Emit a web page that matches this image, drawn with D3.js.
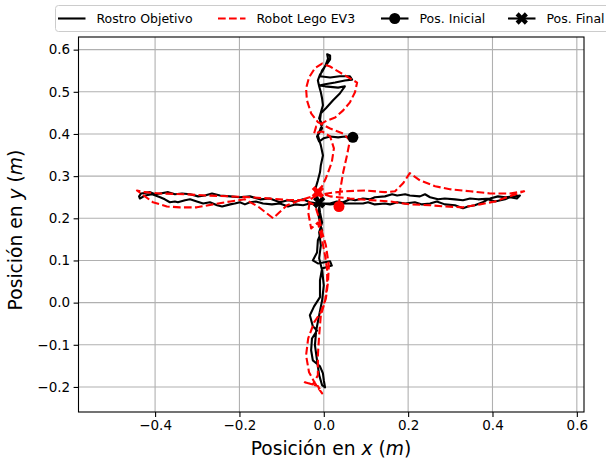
<!DOCTYPE html>
<html><head><meta charset="utf-8">
<script src="https://cdn.jsdelivr.net/npm/d3@7"></script>
<style>body{margin:0;background:#fff}svg{display:block}text{font-family:"DejaVu Sans",sans-serif}</style>
</head><body><div id="c"></div>
<script>
// ---- data ----
const seriesNames = ["Rostro Objetivo", "Robot Lego EV3", "Pos. Inicial", "Pos. Final"];
const xTicks = [-0.4, -0.2, 0.0, 0.2, 0.4, 0.6];
const yTicks = [-0.2, -0.1, 0.0, 0.1, 0.2, 0.3, 0.4, 0.5, 0.6];
const xLabel = ["Posición en ", "x", " (", "m", ")"];
const yLabel = ["Posición en ", "y", " (", "m", ")"];

// Rostro Objetivo (face) trajectory, metres, in pieces
const faceVertX = [0.069,0.050,0.034,0.015,0.000,-0.011,-0.016,-0.009,-0.004,-0.011,-0.007,-0.002,-0.004,-0.007,-0.011,-0.014,-0.009,-0.002,0.005,0.010,0.008,0.015,0.015,0.008,-0.004,-0.009,0.015,0.038,0.062,0.067,0.050,0.027,0.003,-0.011,0.003,0.034,0.050,0.038,0.022,0.005,-0.007,-0.009,-0.004,-0.014,-0.007,-0.002,-0.007,-0.009,-0.014,-0.021,-0.014,-0.009,-0.014,-0.009,-0.004,-0.014,-0.016,-0.026,-0.014,0.015,0.019,-0.004,-0.009,-0.009,-0.023,-0.033,-0.026,-0.016,-0.028,-0.030,-0.026,-0.009,-0.002,0.000,0.003,
 -0.004,-0.011,-0.016,-0.021,-0.018,-0.011,-0.004,0.000,-0.004,-0.011,-0.007,-0.011,-0.004,-0.009,-0.011];
const faceVertY = [0.392,0.394,0.392,0.394,0.390,0.382,0.394,0.409,0.423,0.437,0.451,0.468,0.484,0.499,0.513,0.527,0.541,0.551,0.565,0.579,0.589,0.586,0.577,0.567,0.551,0.537,0.534,0.537,0.537,0.529,0.527,0.522,0.518,0.515,0.513,0.510,0.513,0.496,0.480,0.461,0.449,0.432,0.413,0.397,0.373,0.349,0.326,0.309,0.290,0.266,0.247,0.233,0.214,0.190,0.171,0.148,0.119,0.100,0.093,0.098,0.088,0.081,0.053,0.013,-0.009,-0.030,-0.056,-0.066,-0.085,-0.113,-0.137,-0.151,-0.168,-0.184,-0.201,
 -0.196,-0.172,-0.137,-0.101,-0.066,-0.030,0.005,0.041,0.077,0.105,0.136,0.167,0.190,0.214,0.231];
const faceLeftOutX = [-0.033,-0.049,-0.068,-0.085,-0.104,-0.123,-0.144,-0.161,-0.175,-0.187,-0.199,-0.211,-0.222,-0.241,-0.253,-0.270,-0.286,-0.301,-0.317,-0.329,-0.346,-0.353,-0.365,-0.377,-0.388,-0.407,-0.424,-0.436,-0.438,-0.433];
const faceLeftOutY = [0.235,0.231,0.233,0.228,0.235,0.233,0.235,0.240,0.238,0.233,0.238,0.235,0.233,0.228,0.231,0.238,0.235,0.240,0.245,0.243,0.238,0.240,0.238,0.245,0.250,0.257,0.254,0.247,0.252,0.259];
const faceLeftBackX = [-0.412,-0.400,-0.388,-0.369,-0.353,-0.336,-0.317,-0.298,-0.282,-0.265,-0.246,-0.222,-0.199,-0.175,-0.151,-0.128,-0.104,-0.085,-0.068,-0.049,-0.033,-0.014];
const faceLeftBackY = [0.262,0.257,0.259,0.262,0.257,0.259,0.257,0.252,0.254,0.259,0.254,0.252,0.250,0.252,0.245,0.247,0.238,0.243,0.240,0.245,0.238,0.235];
const faceRightOutX = [0.015,0.031,0.046,0.062,0.074,0.093,0.110,0.121,0.145,0.162,0.174,0.193,0.204,0.228,0.240,0.252,0.271,0.287,0.311,0.330,0.347,0.366,0.394,0.413,0.430,0.453,0.465];
const faceRightOutY = [0.235,0.240,0.238,0.245,0.243,0.247,0.245,0.250,0.252,0.257,0.254,0.257,0.254,0.252,0.257,0.250,0.245,0.247,0.245,0.243,0.247,0.245,0.247,0.252,0.250,0.252,0.254];
const faceRightBackX = [0.458,0.441,0.430,0.406,0.389,0.377,0.358,0.342,0.330,0.311,0.287,0.268,0.252,0.233,0.216,0.193,0.174,0.157,0.145,0.121,0.105,0.093,0.062,0.038,0.015,-0.004,-0.011];
const faceRightBackY = [0.247,0.250,0.245,0.240,0.245,0.238,0.231,0.228,0.224,0.231,0.233,0.240,0.235,0.233,0.238,0.235,0.238,0.233,0.235,0.233,0.238,0.235,0.235,0.235,0.233,0.235,0.238];

// Robot Lego EV3 trajectory
const robotX = [0.036,0.038,0.046,0.055,0.062,0.046,0.015,-0.014,-0.030,-0.040,-0.042,-0.035,-0.021,-0.004,0.015,0.038,0.062,0.079,0.074,0.062,0.046,0.027,0.008,
 -0.018,-0.023,-0.004,0.015,0.024,0.019,0.005,-0.011,-0.033,-0.037,-0.030,-0.014,-0.004,0.003,0.008,0.008,0.003,-0.007,-0.023,-0.037,-0.042,-0.035,-0.021,-0.004,-0.014,-0.045,-0.026,-0.014,-0.014,-0.011,-0.007,0.005,0.010,0.012,0.005,-0.004,-0.011,-0.021,
 -0.045,-0.080,-0.128,-0.175,-0.222,-0.277,-0.329,-0.388,-0.424,-0.443,-0.424,-0.405,-0.372,-0.341,-0.301,-0.263,-0.222,-0.187,-0.156,-0.120,-0.087,-0.056,-0.026,
 0.008,0.046,0.098,0.145,0.169,0.188,0.204,0.228,0.264,0.299,0.347,0.394,0.441,0.475,0.441,0.406,0.370,0.330,0.287,0.252,0.204,0.157,0.110,0.062,0.015,-0.014];
const robotY = [0.228,0.262,0.309,0.349,0.385,0.401,0.413,0.428,0.449,0.480,0.508,0.534,0.556,0.567,0.560,0.546,0.532,0.522,0.499,0.475,0.456,0.439,0.432,
 0.418,0.401,0.406,0.394,0.366,0.333,0.295,0.262,0.243,0.214,0.176,0.190,0.148,0.112,0.077,0.041,0.005,-0.023,-0.047,-0.085,-0.125,-0.165,-0.191,-0.215,-0.198,-0.189,-0.194,-0.172,-0.125,-0.078,-0.030,0.010,0.048,0.088,0.136,0.167,0.200,0.231,
 0.243,0.243,0.247,0.250,0.252,0.254,0.257,0.259,0.262,0.266,0.252,0.238,0.228,0.226,0.226,0.233,0.240,0.245,0.228,0.200,0.231,0.243,0.252,
 0.259,0.264,0.266,0.262,0.264,0.283,0.307,0.290,0.276,0.269,0.264,0.259,0.259,0.264,0.252,0.240,0.233,0.226,0.228,0.231,0.233,0.240,0.243,0.247,0.252,0.262];

// start / end markers [face, robot]
const startX = [0.069, 0.036], startY = [0.392, 0.228];
const endX = [-0.011, -0.014], endY = [0.238, 0.262];
const colors = ["#000000", "#ff0000"];

// ---- chart ----
const W = 606, H = 466;
const L = 78.5, R = 584, T = 37, B = 412;
const svg = d3.select("#c").append("svg").attr("width", W).attr("height", H);
const x = d3.scaleLinear().domain([-0.5816, 0.617]).range([L, R]);
const y = d3.scaleLinear().domain([-0.2594, 0.630]).range([B, T]);
const fmt = d => d3.format(".1f")(d).replace("-", "\u2212");

// grid
const g = svg.append("g");
g.selectAll(".gx").data(xTicks).join("line")
  .attr("x1", d => x(d)).attr("x2", d => x(d)).attr("y1", T).attr("y2", B)
  .attr("stroke", "#b0b0b0").attr("stroke-width", 1.1);
g.selectAll(".gy").data(yTicks).join("line")
  .attr("y1", d => y(d)).attr("y2", d => y(d)).attr("x1", L).attr("x2", R)
  .attr("stroke", "#b0b0b0").attr("stroke-width", 1.1);

// data
svg.append("clipPath").attr("id", "cp").append("rect")
  .attr("x", L).attr("y", T).attr("width", R - L).attr("height", B - T);
const line = d3.line().x(d => x(d[0])).y(d => y(d[1]));
const faceXs = [].concat(faceVertX, faceLeftOutX, faceLeftBackX, faceRightOutX, faceRightBackX);
const faceYs = [].concat(faceVertY, faceLeftOutY, faceLeftBackY, faceRightOutY, faceRightBackY);
const face = faceXs.map((v, i) => [v, faceYs[i]]);
const robot = robotX.map((v, i) => [v, robotY[i]]);
const pg = svg.append("g").attr("clip-path", "url(#cp)");
pg.append("path").attr("d", line(face)).attr("fill", "none").attr("stroke", colors[0])
  .attr("stroke-width", 2.1).attr("stroke-linejoin", "round").attr("stroke-linecap", "square");
pg.append("path").attr("d", line(robot)).attr("fill", "none").attr("stroke", colors[1])
  .attr("stroke-width", 2.1).attr("stroke-dasharray", "7.7,3.3").attr("stroke-linejoin", "round");

const xSym = d3.symbol().type(d3.symbolCross).size(95);
startX.forEach((v, i) => {
  pg.append("circle").attr("cx", x(v)).attr("cy", y(startY[i])).attr("r", 5.5).attr("fill", colors[i]);
});
endX.forEach((v, i) => {
  pg.append("path").attr("d", xSym())
    .attr("transform", `translate(${x(v)},${y(endY[i])}) rotate(45)`).attr("fill", colors[i]);
});

// axes
const xa = svg.append("g").attr("transform", `translate(0,${B})`)
  .call(d3.axisBottom(x).tickValues(xTicks).tickFormat(fmt).tickSizeOuter(0).tickSize(4.9).tickPadding(3.5));
const ya = svg.append("g").attr("transform", `translate(${L},0)`)
  .call(d3.axisLeft(y).tickValues(yTicks).tickFormat(fmt).tickSizeOuter(0).tickSize(4.9).tickPadding(3.5));
[xa, ya].forEach(a => {
  a.select(".domain").remove();
  a.selectAll(".tick line").attr("stroke", "#000").attr("stroke-width", 1.1);
  a.selectAll(".tick text").attr("fill", "#000").style("font-size", "13.5px").style("font-family", "DejaVu Sans");
});
svg.append("rect").attr("x", L).attr("y", T).attr("width", R - L).attr("height", B - T)
  .attr("fill", "none").attr("stroke", "#000").attr("stroke-width", 1.1);

// axis labels
function richLabel(t, parts) {
  parts.forEach((p, i) => t.append("tspan").text(p).style("font-style", i === 1 || i === 3 ? "italic" : "normal"));
}
const xl = svg.append("text").attr("x", 331).attr("y", 455).attr("text-anchor", "middle").style("font-size", "18.7px");
richLabel(xl, xLabel);
const yl = svg.append("text").attr("transform", "translate(22,230) rotate(-90)").attr("text-anchor", "middle").style("font-size", "18.7px");
richLabel(yl, yLabel);

// legend
const lg = svg.append("g");
lg.append("rect").attr("x", 55.5).attr("y", 5.5).attr("width", 570).attr("height", 26).attr("rx", 3)
  .attr("fill", "#fff").attr("fill-opacity", 0.8).attr("stroke", "#cccccc").attr("stroke-width", 1);
const lx = [58, 218, 381, 508];
seriesNames.forEach((name, i) => {
  const c = i === 1 ? colors[1] : colors[0];
  const ln = lg.append("line").attr("x1", lx[i]).attr("x2", lx[i] + 27.5).attr("y1", 18.5).attr("y2", 18.5)
    .attr("stroke", c).attr("stroke-width", 2.1);
  if (i === 1) ln.attr("stroke-dasharray", "7.7,3.3");
  if (i === 2) lg.append("circle").attr("cx", lx[i] + 13.75).attr("cy", 18.5).attr("r", 5.5).attr("fill", c);
  if (i === 3) lg.append("path").attr("d", xSym()).attr("transform", `translate(${lx[i] + 13.75},18.5) rotate(45)`).attr("fill", c);
  lg.append("text").attr("x", lx[i] + 38.5).attr("y", 23).style("font-size", "12.5px").text(name);
});
</script></body></html>
